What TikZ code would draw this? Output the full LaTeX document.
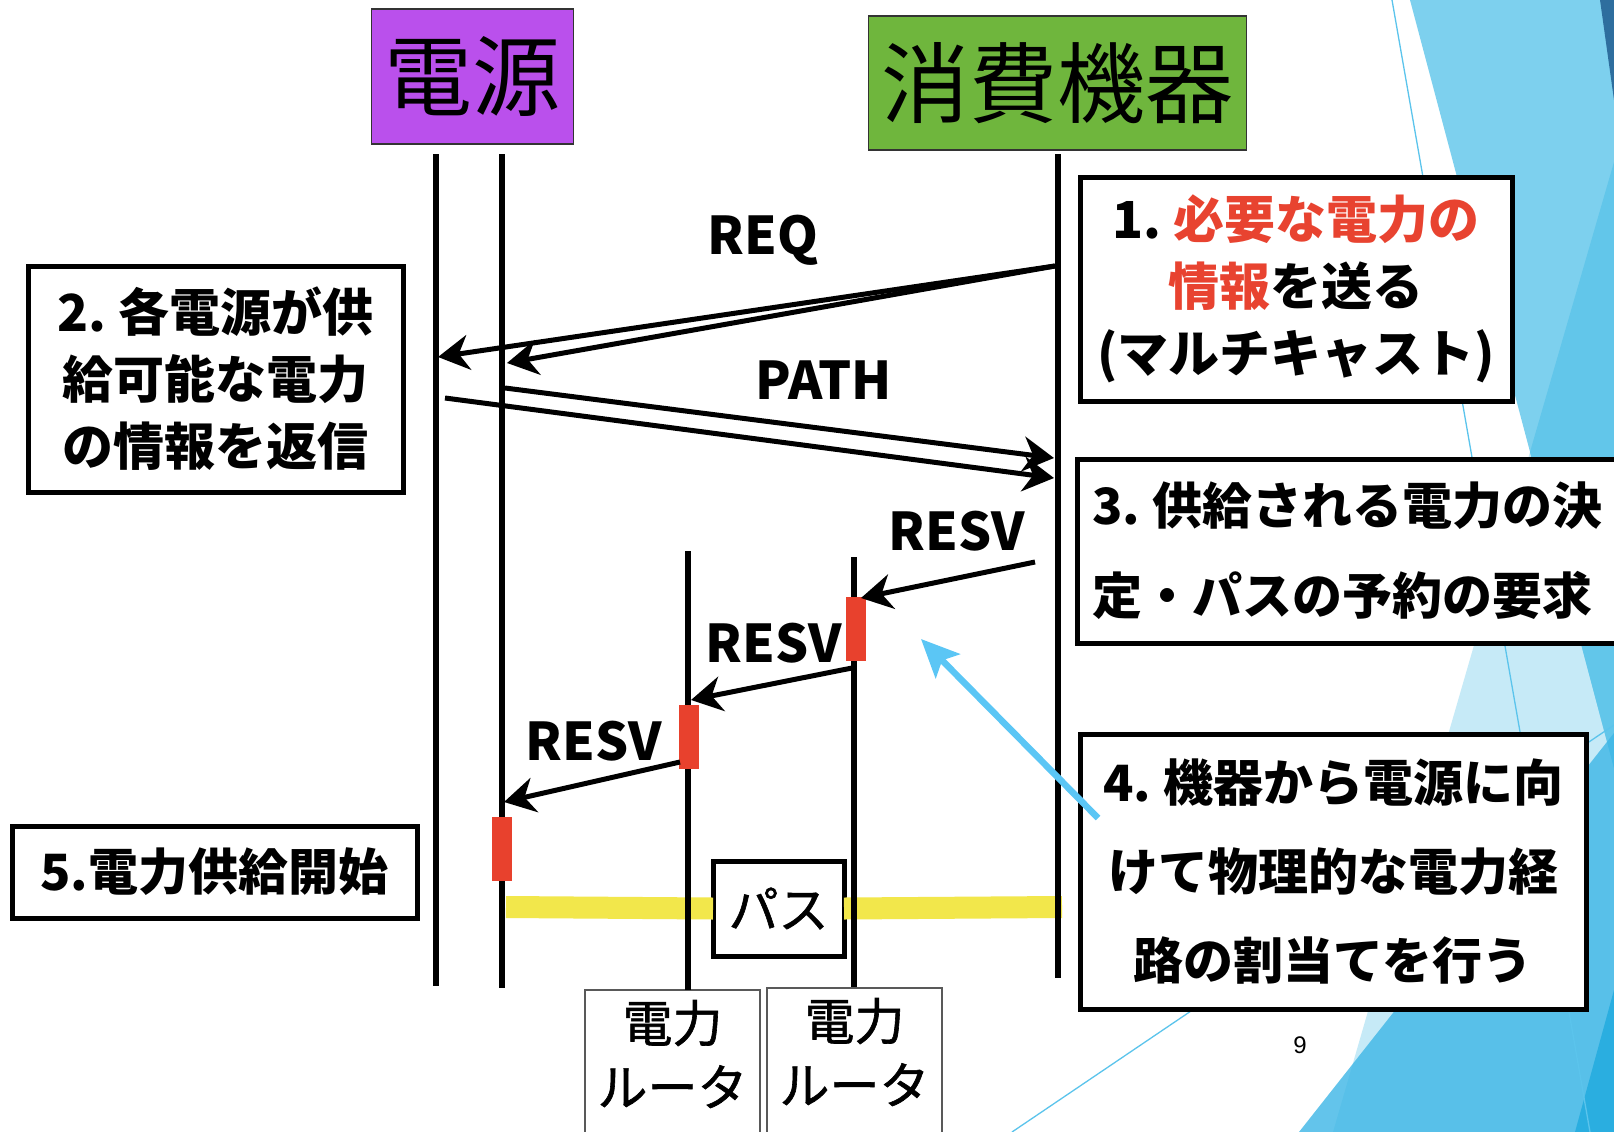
\documentclass[tikz,border=0pt]{standalone}
\usepackage{fontspec}
\newfontfamily\jp{Noto Sans CJK JP}
\newfontfamily\jpm[FakeBold=1.2]{Noto Sans CJK JP}
\newfontfamily\pgnum{Liberation Sans}
\usetikzlibrary{arrows.meta}
\definecolor{srcpurple}{HTML}{BA50EC}
\definecolor{devgreen}{HTML}{6FB63D}
\definecolor{barred}{HTML}{E8412D}
\definecolor{stepred}{HTML}{E84330}
\definecolor{pathyellow}{HTML}{F2E74B}
\definecolor{hintblue}{HTML}{5BC6F5}
\definecolor{bgpale}{HTML}{C6EAF7}
\definecolor{bgmid}{HTML}{7DD0EE}
\definecolor{bgover}{HTML}{62C6EA}
\definecolor{bgdark}{HTML}{3DB6E6}
\definecolor{bgdeep}{HTML}{2AAEE0}
\definecolor{bgnavy}{HTML}{2E6E9E}
\definecolor{bgline}{HTML}{5BC4EC}
\begin{document}
\begin{tikzpicture}[x=1pt,y=-1pt]
\tikzset{
  titlebox/.style={draw=black!80, line width=1.5pt, inner sep=0pt, outer sep=0pt, font=\jp\fontsize{88}{88}\selectfont},
  stepbox/.style={draw=black, line width=5pt, fill=white, inner sep=0pt, outer sep=0pt, font=\jp\bfseries\fontsize{51}{67}\selectfont, align=center},
  lifeline/.style={line width=6pt, black},
  msg/.style={line width=5pt, black, -{Stealth[length=31pt,width=35pt,inset=10pt]}},
  msglabel/.style={font=\jp\bfseries\fontsize{52}{52}\selectfont, inner sep=0pt, text depth=0pt},
  resvbar/.style={fill=barred, draw=none, minimum width=20pt, minimum height=64pt, inner sep=0pt},
  pathline/.style={line width=22pt, pathyellow},
  routerbox/.style={draw=black!65, line width=2pt, fill=white, inner xsep=0pt, inner ysep=10pt, outer sep=0pt, font=\jpm\fontsize{50}{64}\selectfont, align=center, minimum width=175pt, anchor=north, text depth=45pt},
  hint/.style={line width=6.5pt, hintblue, -{Stealth[length=38pt,width=34pt,inset=8pt]}},
  bgstroke/.style={line width=1.3pt, bgline}
}
\useasboundingbox (0,0) rectangle (1614,1132);
\begin{scope}
\clip (0,0) rectangle (1614,1132);
\fill[white] (0,0) rectangle (1614,1132);
% background facets
\fill[bgpale] (1614,162) -- (1614,1132) -- (1333,1132) -- cycle;
\fill[bgmid] (1410,0) -- (1614,0) -- (1614,768) -- cycle;
\fill[bgover] (1614,162) -- (1530,452) -- (1614,768) -- cycle;
\fill[bgdark, opacity=0.8] (1299,1132) -- (1614,733) -- (1614,1132) -- cycle;
\fill[bgdeep] (1614,990) -- (1614,1132) -- (1575,1132) -- cycle;
\fill[bgnavy] (1600,0) -- (1614,0) -- (1614,100) -- cycle;
\draw[bgstroke] (1392,0) -- (1590,1132);
\draw[bgstroke] (1012,1132) -- (1614,725);

% title boxes
\node[titlebox, fill=srcpurple, minimum width=202pt, minimum height=135pt] (src) at (472.5,76.5) {電源};
\node[titlebox, fill=devgreen, minimum width=378pt, minimum height=134pt] (dev) at (1057.5,83) {消費機器};

% lifeline end points
\coordinate (L1t) at (436,154);  \coordinate (L1b) at (436,986);
\coordinate (L2t) at (502,154);  \coordinate (L2b) at (502,988);
\coordinate (LCt) at (1058,154); \coordinate (LCb) at (1058,978);
\coordinate (R1t) at (688,551);
\coordinate (R2t) at (854,557);  \coordinate (R2b) at (854,987);

% path (yellow) with label box
\coordinate (ylS) at (506,907);
\coordinate (ylE) at (1062,907);
\node[draw=black, line width=5pt, fill=white, inner sep=0pt, outer sep=0pt, minimum width=131pt, minimum height=95pt, font=\jpm\fontsize{50}{50}\selectfont] (pasu) at (778.5,908.5) {パス};
\draw[pathline] (ylS) -- (pasu.west);
\draw[pathline] (pasu.east) -- (ylE);

% router boxes
\node[routerbox] (rtA) at (672.5,990) {電力\\ルータ};
\node[routerbox] (rtB) at (854.5,988) {電力\\ルータ};

% lifelines
\draw[lifeline] (L1t) -- (L1b);
\draw[lifeline] (L2t) -- (L2b);
\draw[lifeline] (LCt) -- (LCb);
\draw[lifeline] (R1t) -- (rtA.north -| R1t);
\draw[lifeline] (R2t) -- (R2b);

% reservation bars
\node[resvbar] (barR2) at (855.5,629) {};
\node[resvbar] (barR1) at (688.5,736.5) {};
\node[resvbar] (barL2) at (502,849) {};

% messages
\coordinate (reqS) at (1055,266);
\coordinate (reqA) at (438,357);
\coordinate (reqB) at (507,363);
\draw[msg] (reqS) -- (reqA);
\draw[msg] (reqS) -- (reqB);
\coordinate (pathAS) at (505,388); \coordinate (pathAE) at (1054,458);
\coordinate (pathBS) at (445,398); \coordinate (pathBE) at (1054,478);
\draw[msg] (pathAS) -- (pathAE);
\draw[msg] (pathBS) -- (pathBE);
\coordinate (resv1S) at (1035,562); \coordinate (resv1E) at (861,598);
\coordinate (resv2S) at (852,668);  \coordinate (resv2E) at (691,700);
\coordinate (resv3S) at (680,762);  \coordinate (resv3E) at (504,802);
\draw[msg] (resv1S) -- (resv1E);
\draw[msg] (resv2S) -- (resv2E);
\draw[msg] (resv3S) -- (resv3E);

% message labels
\node[msglabel] (lreq) at (763,235) {REQ};
\node[msglabel] (lpath) at (824,380) {PATH};
\node[msglabel] (lresv1) at (957,531) {RESV};
\node[msglabel] (lresv2) at (774,643) {RESV};
\node[msglabel] (lresv3) at (594,741) {RESV};

% step boxes
\node[stepbox, minimum width=432pt, minimum height=224pt] (s1) at (1296,289)
  {1.\kern12pt\textcolor{stepred}{必要な電力の}\\\textcolor{stepred}{情報}を送る\\(マルチキャスト)};
\node[stepbox, minimum width=375pt, minimum height=226pt] (s2) at (215.5,379)
  {2.\kern12pt 各電源が供\\給可能な電力\\の情報を返信};
\node[stepbox, anchor=west, minimum width=600pt, minimum height=184pt, inner xsep=14pt, text width=570pt, align=left, font=\jp\bfseries\fontsize{50}{90}\selectfont] (s3) at (1077,551)
  {3.\kern12pt 供給される電力の決\\定・パスの予約の要求};
\node[stepbox, minimum width=506pt, minimum height=275pt, font=\jp\bfseries\fontsize{50}{89}\selectfont] (s4) at (1333,871.5)
  {4.\kern12pt 機器から電源に向\\けて物理的な電力経\\路の割当てを行う};
\node[stepbox, minimum width=405pt, minimum height=92pt, font=\jp\bfseries\fontsize{50}{50}\selectfont] (s5) at (214.5,872)
  {5.電力供給開始};

% hint arrow
\coordinate (hintS) at (1098,818);
\coordinate (hintE) at (921,639);
\draw[hint] (hintS) -- (hintE);

% page number
\node[inner sep=0pt] (pgno) at (1300,1045) {\pgnum\fontsize{24}{24}\selectfont 9};
\end{scope}
\end{tikzpicture}
\end{document}
